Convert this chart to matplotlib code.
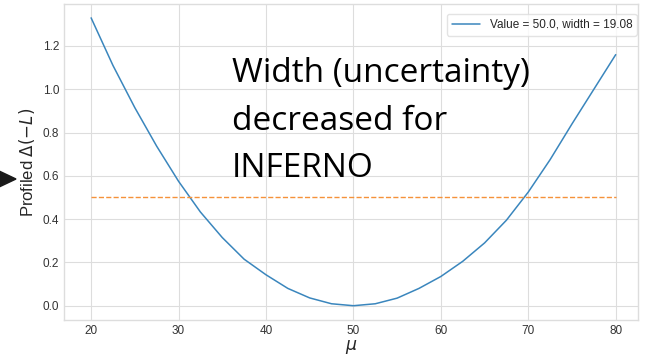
import matplotlib
matplotlib.use("Agg")
import matplotlib.pyplot as plt
from matplotlib.patches import Polygon

# profiled likelihood scan
mu = [20, 22.5, 25, 27.5, 30, 32.5, 35, 37.5, 40, 42.5, 45, 47.5, 50,
      52.5, 55, 57.5, 60, 62.5, 65, 67.5, 70, 72.5, 75, 77.5, 80]
nll = [1.33, 1.11, 0.915, 0.737, 0.575, 0.433, 0.315, 0.215, 0.143, 0.080,
       0.036, 0.009, 0.0,
       0.009, 0.035, 0.080, 0.135, 0.205, 0.29, 0.395, 0.525, 0.675, 0.84,
       1.0, 1.16]
threshold = 0.5
best_value = 50.0
width = 19.08

plt.style.use("seaborn-v0_8-whitegrid")
plt.rcParams["font.family"] = ["Liberation Sans", "DejaVu Sans"]

fig = plt.figure(figsize=(6.48, 3.57), dpi=100)
ax = fig.add_axes([64 / 648, 37 / 357, 574 / 648, 316 / 357])

ax.plot(mu, nll, color="#3a86bd", lw=1.1,
        label=f"Value = {best_value}, width = {width}")
ax.plot([mu[0], mu[-1]], [threshold, threshold], color="#f5923a",
        ls="--", lw=1.0)

ax.set_xlim(16.9, 82.55)
ax.set_ylim(-0.066, 1.394)
ax.set_xticks([20, 30, 40, 50, 60, 70, 80])
ax.set_yticks([0.0, 0.2, 0.4, 0.6, 0.8, 1.0, 1.2])
ax.tick_params(labelsize=8.5, colors="#333333")
ax.set_xlabel(r"$\mu$", fontsize=12.5, labelpad=1)
ax.set_ylabel(r"Profiled $\Delta(-L)$", fontsize=12, labelpad=4)
ax.grid(color="#dddddd", lw=0.8)
for s in ax.spines.values():
    s.set_color("#dddddd")

leg = ax.legend(loc="upper right", bbox_to_anchor=(0.998, 0.968),
                borderaxespad=0, fontsize=8.5, frameon=True,
                handlelength=2.4)
leg.get_frame().set_edgecolor("#dddddd")

# slide annotation
fig.text(232 / 648, 1 - 177 / 357,
         "Width (uncertainty)\ndecreased for\nINFERNO",
         fontsize=24, family=["Open Sans", "DejaVu Sans"], color="black",
         va="baseline", ha="left", linespacing=1.58)

# arrow head at the left edge of the slide crop
tri = Polygon([[-3 / 648, 1 - 170 / 357], [-3 / 648, 1 - 188 / 357],
               [16 / 648, 1 - 179 / 357]], closed=True,
              color="#1a1a1a", transform=fig.transFigure, clip_on=False)
fig.patches.append(tri)

fig.savefig("out.png", dpi=100)
